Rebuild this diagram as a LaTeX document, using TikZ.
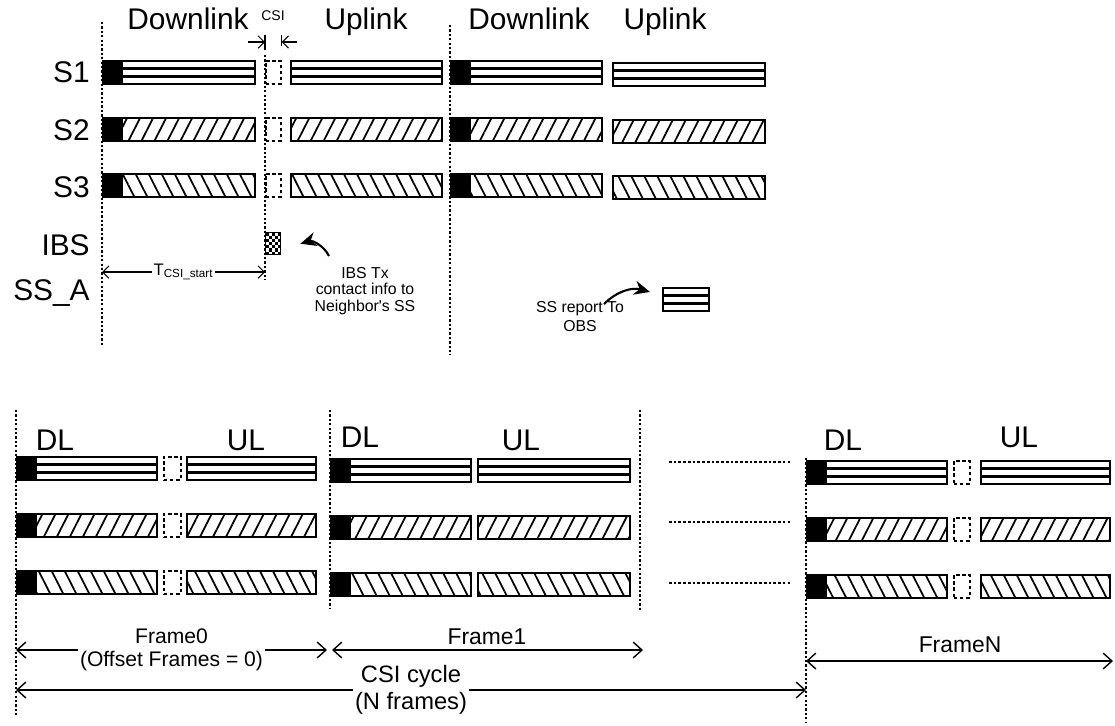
\documentclass[tikz,border=0pt]{standalone}
\usepackage{fontspec}
\setmainfont{Liberation Sans}
\usetikzlibrary{positioning,arrows.meta,patterns.meta}

\newcommand*{\headfill}{\fill[black] (path picture bounding box.north west) rectangle ([xshift=0.4cm]path picture bounding box.south west);}
\newcommand*{\hstripes}{\foreach \k in {1,2}
	\draw[line width=1.6pt] ([yshift=-\k*0.153cm]path picture bounding box.north west) -- ([yshift=-\k*0.153cm]path picture bounding box.north east);}
\newcommand*{\diagstripes}[1]{\fill[pattern={Lines[angle=#1,distance=6.6pt,line width=1pt]}]
	(path picture bounding box.south west) rectangle (path picture bounding box.north east);}

\begin{document}
\begin{tikzpicture}[x=0.02cm, y=-0.02cm, node distance=1cm]
	\tikzstyle{slot}=[rectangle, draw=black, line width=1.1pt, inner sep=0pt, minimum height=0.46cm, anchor=north west]
	\tikzset{len/.style={minimum width=#1*0.02cm}}
	\tikzstyle{hs}=[slot, path picture={\hstripes}]
	\tikzstyle{hshead}=[slot, path picture={\hstripes\headfill}]
	\tikzstyle{ne}=[slot, path picture={\diagstripes{63}}]
	\tikzstyle{nehead}=[slot, path picture={\diagstripes{63}\headfill}]
	\tikzstyle{nw}=[slot, path picture={\diagstripes{-63}}]
	\tikzstyle{nwhead}=[slot, path picture={\diagstripes{-63}\headfill}]
	\tikzstyle{csi}=[slot, line width=0.9pt, dash pattern=on 2pt off 1.5pt]
	\tikzstyle{vline}=[line width=1pt, dash pattern=on 1.3pt off 1.2pt]
	\tikzstyle{dim}=[line width=0.8pt, {Straight Barb[length=5pt,width=9pt]}-{Straight Barb[length=5pt,width=9pt]}]
	\tikzstyle{bendarrow}=[line width=1.2pt, -{Stealth[length=9pt,width=8pt]}]
	\tikzstyle{head}=[font=\fontsize{17}{19}\selectfont, anchor=base]
	\tikzstyle{big}=[font=\fontsize{17}{20}\selectfont]
	\tikzstyle{note}=[font=\fontsize{9}{9.2}\selectfont, align=center]
	\useasboundingbox (0,0) rectangle (1115,725);

	% top part: time lines
	\coordinate (tA) at (102,22);  \coordinate (bA) at (102,345);
	\coordinate (tB) at (265,55);  \coordinate (bB) at (265,280);
	\coordinate (tC) at (450,25);  \coordinate (bC) at (450,355);
	\draw[vline] (tA) -- (bA);
	\draw[vline] (tB) -- (bB);
	\draw[vline] (tC) -- (bC);

	\node[head] (dlA) at (188,29) {Downlink};
	\node[head] (ulA) at (366,29) {Uplink};
	\node[head] (dlB) at (529,29) {Downlink};
	\node[head] (ulB) at (665,29) {Uplink};

	\foreach \r/\y/\b/\dl/\ul in {1/60/82/hshead/hs, 2/117/140/nehead/ne, 3/173/197/nwhead/nw}{
		\node[big, inner sep=0pt, anchor=base east] (lbl\r) at (90,\b) {S\r};
		\node[\dl, len=152] (s\r-dlA) at (102,\y) {};
		\node[csi, len=15] (s\r-csi) at (265,\y) {};
		\node[\ul, len=151] (s\r-ulA) at (290,\y) {};
		\node[\dl, len=151] (s\r-dlB) at (450,\y) {};
		\node[\ul, len=152] (s\r-ulB) at (612,\y+2) {};
	}
	\node[big, inner sep=0pt, anchor=base east] (lblibs) at (90,255) {IBS};
	\node[big, inner sep=0pt, anchor=base east] (lblss) at (90,300) {SS\_A};

	% csi gap
	\node[font=\fontsize{8}{9}\selectfont] (csilbl) at (273,16) {CSI};
	\coordinate (csiL) at (248,42);
	\coordinate (csiR) at (297,42);
	\draw[line width=0.6pt] (s1-csi.north west |- 0,35) -- (s1-csi.north west |- 0,50);
	\draw[line width=0.6pt] (s1-csi.north east |- 0,35) -- (s1-csi.north east |- 0,46);
	\draw[line width=0.6pt, -{Straight Barb[length=3.5pt,width=7pt]}] (csiL) -- (csiL -| s1-csi.north west);
	\draw[line width=0.6pt, -{Straight Barb[length=3.5pt,width=7pt]}] (csiR) -- (csiR -| s1-csi.north east);

	% IBS burst
	\node[slot, line width=0.8pt, len=15, minimum height=0.44cm,
		path picture={\foreach \i in {0,...,4} \foreach \j in {0,...,6}
			{\ifodd\numexpr\i+\j\relax\else
				\fill ([shift={(3*\i,3.14*\j)}]path picture bounding box.north west) rectangle ++(3,3.14);\fi}}]
		(ibs) at (265,232) {};
	\node[note] (ibstx) at (365,291) {IBS Tx\\contact info to\\Neighbor\textquotesingle s SS};
	\coordinate (ibsTail) at (329,256);
	\draw[bendarrow] (ibsTail) to[bend right=40] ([xshift=0.38cm]ibs.east);

	\coordinate (tsL) at (tA |- 0,272);
	\coordinate (tsR) at (tB |- 0,272);
	\draw[line width=0.6pt, {Straight Barb[length=3.5pt,width=7pt]}-{Straight Barb[length=3.5pt,width=7pt]}] (tsL) --
		node[fill=white, inner sep=1pt, font=\fontsize{9.5}{10}\selectfont] (tcsi) {T\textsubscript{CSI\_start}} (tsR);

	% SS report
	\node[hs, len=46] (ssbox) at (662,287) {};
	\node[note, font=\fontsize{9}{10.8}\selectfont] (ssrep) at (580,317) {SS report To\\OBS};
	\coordinate (ssTail) at (604,304);
	\draw[bendarrow] (ssTail) to[bend left=30] ([xshift=-0.24cm,yshift=0.15cm]ssbox.west);

	% bottom part: csi cycle
	\draw[vline] (16,410) coordinate (f0top) -- (16,716) coordinate (f0bot);
	\draw[vline] (330,410) coordinate (f1top) -- (330,608) coordinate (f1bot);
	\draw[vline] (640,410) coordinate (f2top) -- (640,612) coordinate (f2bot);
	\draw[vline] (806,458) coordinate (fNtop) -- (806,722) coordinate (fNbot);

	\node[big] (bdl0) at (55,440) {DL};
	\node[big] (bul0) at (246,440) {UL};
	\node[big] (bdl1) at (360,437) {DL};
	\node[big] (bul1) at (521,440) {UL};
	\node[big] (bdlN) at (843,440) {DL};
	\node[big] (bulN) at (1019,437) {UL};

	\foreach \r/\y/\e/\dl/\ul in {1/456/462/hshead/hs, 2/513/522/nehead/ne, 3/570/583/nwhead/nw}{
		\node[\dl, len=140] (b\r-dl0) at (16,\y) {};
		\node[csi, len=17] (b\r-csi0) at (163,\y) {};
		\node[\ul, len=129] (b\r-ul0) at (186,\y) {};
		\node[\dl, len=140] (b\r-dl1) at (330,\y+2) {};
		\node[\ul, len=152] (b\r-ul1) at (477,\y+2) {};
		\node[\dl, len=140] (b\r-dlN) at (806,\y+4) {};
		\node[csi, len=16] (b\r-csiN) at (953,\y+4) {};
		\node[\ul, len=129] (b\r-ulN) at (980,\y+4) {};
		\draw[line width=0.8pt, dash pattern=on 1.5pt off 1.2pt] (669,\e) coordinate (gapL\r) -- (792,\e) coordinate (gapR\r);
	}

	\coordinate (f0L) at (16,650);  \coordinate (f0R) at (327,650);
	\coordinate (f1L) at (332,650); \coordinate (f1R) at (643,650);
	\coordinate (fNL) at (806,661); \coordinate (fNR) at (1113,661);
	\coordinate (cyL) at (16,690);  \coordinate (cyR) at (806,690);
	\draw[dim] (f0L) -- node[fill=white, inner sep=1pt, align=center, font=\fontsize{12}{13}\selectfont] (f0lbl) {Frame0\\(Offset Frames = 0)} (f0R);
	\draw[dim] (f1L) -- (f1R);
	\node[font=\fontsize{13}{15}\selectfont] (f1lbl) at (487,637) {Frame1};
	\draw[dim] (fNL) -- (fNR);
	\node[font=\fontsize{13}{15}\selectfont] (fNlbl) at (960,645) {FrameN};
	\draw[dim] (cyL) -- node[fill=white, inner sep=1pt, align=center, font=\fontsize{13.5}{15.3}\selectfont] (cylbl) {CSI cycle\\(N frames)} (cyR);
\end{tikzpicture}
\end{document}
